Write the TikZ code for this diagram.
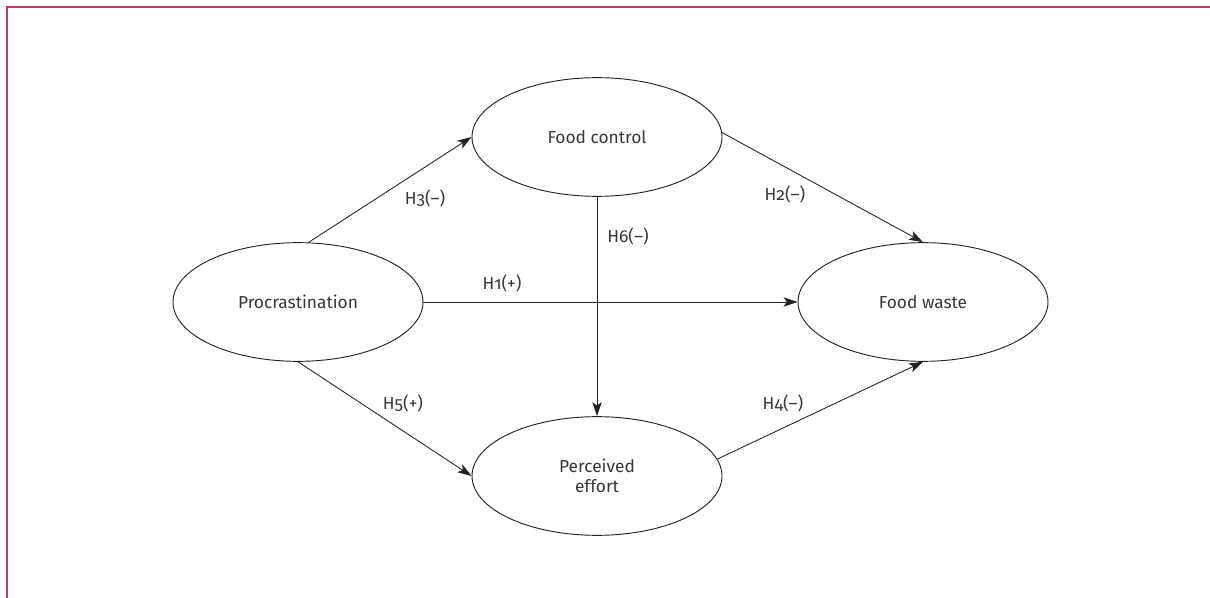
\documentclass[tikz,border=0pt]{standalone}
\usepackage{fontspec}
\setmainfont{Fira Sans}[Numbers=OldStyle]
\usetikzlibrary{arrows.meta,shapes.geometric}
\definecolor{framecol}{RGB}{182,62,96}
\definecolor{inkcol}{RGB}{35,35,35}
\definecolor{textcol}{RGB}{55,55,55}
\begin{document}
\begin{tikzpicture}[x=0.75pt,y=-0.75pt,
  construct/.style={draw=inkcol, line width=0.7pt, ellipse, minimum width=187.5pt,
    minimum height=89pt, inner sep=0pt, align=center, font=\fontsize{13}{15}\selectfont,
    text=textcol},
  link/.style={draw=inkcol, line width=0.65pt,
    -{Stealth[length=10.5pt,width=7pt,inset=2.5pt]}},
  hyp/.style={font=\fontsize{13}{15}\selectfont, text=textcol, inner sep=0pt}]
  \useasboundingbox (0,0) rectangle (1210,598);
  % frame rules along the top and left edge
  \draw[framecol, line width=1.2pt] (7,598) -- (7,7) -- (1210,7);

  % constructs
  \node[construct] (proc) at (298,302) {Procrastination};
  \node[construct] (fc)   at (597,137) {Food control};
  \node[construct] (fw)   at (923,302) {Food waste};
  \node[construct] (pe)   at (597,476) {Perceived\\effort};

  % hypothesised paths
  \draw[link] (proc.80) -- (fc.west);
  \draw[link] (fc.2) -- (fw.north);
  \draw[link] (proc.east) -- (fw.west);
  \draw[link] (fc.south) -- (pe.north);
  \draw[link] (proc.south) -- (pe.west);
  \draw[link] (pe.8.5) -- (fw.south);

  % path labels
  \node[hyp] (h3) at (425,198) {H3(–)};
  \node[hyp] (h2) at (785,194) {H2(–)};
  \node[hyp] (h1) at (502,283) {H1(+)};
  \node[hyp] (h6) at (628,236) {H6(–)};
  \node[hyp] (h5) at (403,403) {H5(+)};
  \node[hyp] (h4) at (783,403) {H4(–)};
\end{tikzpicture}
\end{document}
